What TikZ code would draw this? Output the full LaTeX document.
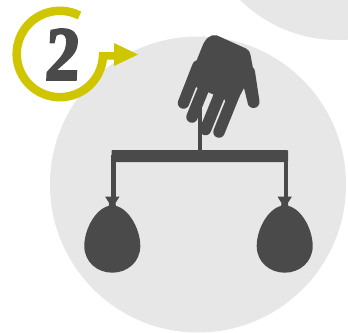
\documentclass[tikz,border=0pt]{standalone}
\usepackage{fontspec}
\newfontfamily\numfont[FakeBold=3.2,FakeSlant=0.06]{Liberation Serif}
\definecolor{disc}{HTML}{E7E7E7}
\definecolor{ringcol}{HTML}{CFC600}
\definecolor{ink}{HTML}{4A4A4A}
\tikzset{
  finger/.style={draw=ink,line width=11.5pt,line cap=round},
  barline/.style={fill=ink,draw=none,rounded corners=0.8pt},
}
\newcommand{\sack}[1]{%
  \begin{scope}[shift={(#1,0)}]
    \fill[ink] (-7.2,196.6) -- (7.2,196.6) -- (3.2,203) -- (4,209) -- (-4,209) -- (-3.2,203) -- cycle;
    \fill[ink] (0,205.5) .. controls (15,205.5) and (28,228) .. (28,246)
       .. controls (28,262) and (15,272.7) .. (0,272.7)
       .. controls (-15,272.7) and (-28,262) .. (-28,246)
       .. controls (-28,228) and (-15,205.5) .. (0,205.5) -- cycle;
  \end{scope}}
\begin{document}
\begin{tikzpicture}[x=1pt,y=-1pt]
\useasboundingbox (0,0) rectangle (348,332);
\begin{scope}
  \clip (0,0) rectangle (348,332);
  \fill[white] (0,0) rectangle (348,332);
  \fill[disc] (338,-100) circle[radius=140];
  \fill[disc] (198,184.5) circle[radius=148];
\end{scope}
% ring and arrow
\draw[ringcol,line width=8.5pt] (79.5,15.5) arc[start angle=-63,end angle=-360,radius=43.2];
\fill[ringcol] (99,52) -- (114,52) -- (114,43) -- (138,54.5) -- (114,66) -- (114,59.5) -- (99,59.5) -- cycle;
\node[text=ink,inner sep=0pt,xscale=0.9] (two) at (61.5,54.5) {\fontsize{76}{76}\selectfont\numfont\bfseries 2};
% hand
\fill[ink] (216.7,35.3) -- (246,48.5) .. controls (249,50) and (250,52) .. (250.5,55)
  -- (259,100) -- (247,100) -- (244,88) -- (232,110) -- (224,99) -- (210,93) -- (196,87) -- (184,92)
  -- (202,47) .. controls (205,39) and (210,34) .. (216.7,35.3) -- cycle;
\draw[ink,line width=12pt,line cap=round] (253.5,102) -- (249,72);
\draw[finger] (183.5,103) -- (198,66);
\draw[finger] (192,117) -- (212,68);
\draw[finger] (205.5,129.5) -- (228,74);
\draw[finger] (219,132) -- (240,80);
% tree
\fill[ink] (198,107) rectangle (202,152);
\fill[barline] (111.5,150) rectangle (288,162);
\fill[ink] (111,155) rectangle (115.7,199);
\fill[ink] (284,155) rectangle (288.3,199);
\sack{112.3}
\sack{284.7}
\end{tikzpicture}
\end{document}
